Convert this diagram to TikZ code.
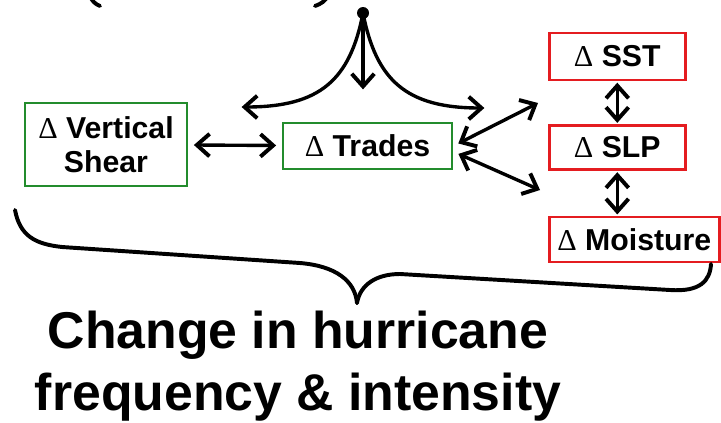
\documentclass[tikz,border=0pt]{standalone}
\usepackage{fontspec}
\setmainfont{Liberation Sans}
\newfontfamily\deltafont{Liberation Serif}
\usetikzlibrary{arrows.meta,positioning,calc}
\definecolor{dg}{RGB}{35,140,45}
\definecolor{dr}{RGB}{228,28,32}
\newcommand{\dlt}{{\deltafont\mdseries\char"0394}\ }
\tikzset{
    gbox/.style =   {rectangle,
                    fill=white,
                    draw=dg,
                    text=black,
                    line width=1.8pt,
                    inner sep=0pt,
                    align=center,
                    font=\bfseries\fontsize{21.5}{24}\selectfont},
    rbox/.style =   {gbox,
                    draw=dr,
                    anchor=west},
    dot/.style =    {circle,
                    fill=black,
                    inner sep=0pt,
                    minimum size=0.3cm},
    link/.style =   {line width=2.4pt,
                    shorten >= 4pt,
                    shorten <= 4pt},
    brace/.style =  {line width=2.8pt,
                    line cap=round},
    >={Straight Barb[length=9pt,width=16pt,line width=2.8pt]}}

\begin{document}
\begin{tikzpicture}[x=0.025cm,y=-0.025cm]
                \useasboundingbox (0,0) rectangle (721,422);
                % title above is cut off: only the foot of its brackets shows
                \begin{scope}
                \clip (0,0) rectangle (721,422);
                \draw[brace] (90,-4) .. controls (92,1) and (95,4) .. (100,6);
                \draw[brace] (328,-4) .. controls (325,1) and (321,4) .. (315,6);
                \end{scope}

                \node[dot]          (top)                                                      at (363,13)    {};
                \node[gbox,minimum width=4.05cm,minimum height=2.075cm]  (shear)               at (106,144.5) {\dlt Vertical\\Shear};
                \node[gbox,minimum width=4.225cm,minimum height=1.15cm]  (trades)              at (367.5,146) {\dlt Trades};
                \node[rbox,minimum width=3.4cm,minimum height=1.175cm]   (sst)                 at (548,56.5)  {\dlt SST};
                \node[rbox,minimum width=3.4cm,minimum height=1.1cm]     (slp)   [below=1.075cm of sst.south west,anchor=north west]  {\dlt SLP};
                \node[rbox,minimum width=4.25cm,minimum height=1.125cm]  (moist) [below=1.125cm of slp.south west,anchor=north west]  {\dlt Moisture};

                \coordinate (down)  at (363,95);
                \coordinate (left)  at (236,107);
                \coordinate (right) at (490,108);
                \coordinate (up)    at (538,103);
                \coordinate (low)   at (540,190);

                \draw [link,->,shorten <=0pt] (top.center) -- (down);
                \draw [link,->,shorten <=0pt] (top.center) .. controls (350,80) and (320,107) .. (left);
                \draw [link,->,shorten <=0pt] (top.center) .. controls (376,80) and (406,108) .. (right);
                \path [link,<->]    (shear)  edge []                                                  node [] {} (trades)
                                    (trades.east) edge [shorten >=0pt]                               node [] {} (up)
                                    ([yshift=-4pt]trades.east) edge [shorten >=0pt]                  node [] {} (low)
                                    (sst)    edge [shorten >=1pt,shorten <=1pt]                      node [] {} (slp)
                                    (slp.south) edge [shorten >=1pt,shorten <=1pt]                   node [] {} (slp.south |- moist.north);

                % brace under the boxes
                \draw[brace] (15,210) .. controls (20,236) and (35,244) .. (62,247) -- (300,263)
                             .. controls (336,266) and (355,281) .. (357,303);
                \draw[brace] (357,303) .. controls (360,285) and (376,274) .. (400,274) -- (670,290)
                             .. controls (700,292) and (710,281) .. (711,264);

                \node[font=\bfseries\fontsize{36.8}{44}\selectfont,align=center] (result) at (298,366)
                      {Change in hurricane\\frequency \& intensity};
        \end{tikzpicture}
\end{document}
